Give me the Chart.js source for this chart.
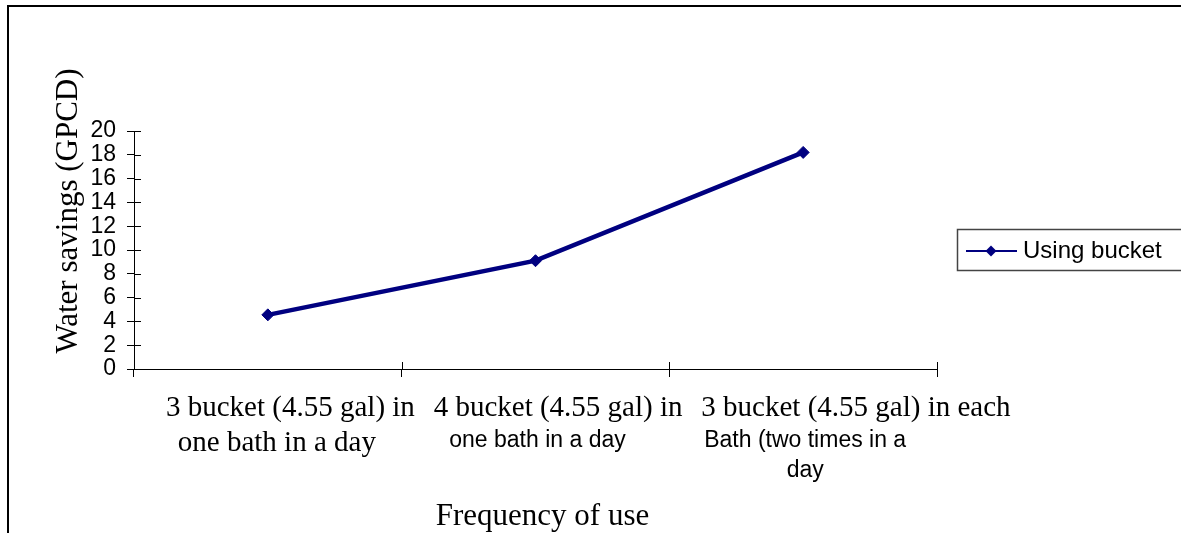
<!DOCTYPE html>
<html>
<head>
<meta charset="utf-8">
<script src="https://cdn.jsdelivr.net/npm/chart.js@4.4.1/dist/chart.umd.min.js"></script>
<style>
  html, body { margin: 0; padding: 0; background: #fff; }
  #wrap { width: 1181px; height: 533px; position: relative; }
</style>
</head>
<body>
<div id="wrap"><canvas id="savingsChart"></canvas></div>
<script>
// categories, wrapped the way they are printed under the axis
const categoryLines = [
    ['3 bucket (4.55 gal) in', 'one bath in a day'],
    ['4 bucket (4.55 gal) in', 'one bath in a day'],
    ['3 bucket (4.55 gal) in each', 'Bath (two times in a', 'day']
];
const savings = [4.55, 9.1, 18.2];
const seriesName = 'Using bucket';
const yMin = 0;
const yMax = 20;
const yStep = 2;
const yTitle = 'Water savings (GPCD)';
const xTitle = 'Frequency of use';

const NAVY = '#000080';
const SERIF = '"Liberation Serif", "Times New Roman", Times, serif';
const SANS = '"Liberation Sans", Arial, Helvetica, sans-serif';

const decorPlugin = {
    id: 'decor',
    afterDraw(chart) {
        const ctx = chart.ctx;
        const xs = chart.scales.x;
        const ys = chart.scales.y;
        const area = chart.chartArea;
        ctx.save();

        // outer frame (left and top edges only)
        ctx.strokeStyle = '#000';
        ctx.lineWidth = 2;
        ctx.beginPath();
        ctx.moveTo(8, chart.height);
        ctx.lineTo(8, 6);
        ctx.lineTo(chart.width, 6);
        ctx.stroke();

        // tick marks cross the axes, so add the inner half
        ctx.lineWidth = 1;
        ctx.beginPath();
        ys.ticks.forEach((t, i) => {
            const py = Math.round(ys.getPixelForTick(i)) + 0.5;
            ctx.moveTo(area.left, py);
            ctx.lineTo(area.left + 7, py);
        });
        for (let i = 0; i <= categoryLines.length; i++) {
            const px = Math.round(xs.getPixelForValue(i - 0.5)) + 0.5;
            ctx.moveTo(px, area.bottom);
            ctx.lineTo(px, area.bottom - 7);
        }
        ctx.stroke();

        // category labels
        ctx.fillStyle = '#000';
        categoryLines.forEach((lines, i) => {
            const left = xs.getPixelForValue(i - 0.5);
            const mid = xs.getPixelForValue(i);
            lines.forEach((txt, j) => {
                if (j === 0) {
                    ctx.font = '29px ' + SERIF;
                    ctx.textAlign = 'left';
                    ctx.fillText(txt, left + 32, area.bottom + 47);
                } else if (i === 0) {
                    ctx.font = '29px ' + SERIF;
                    ctx.textAlign = 'center';
                    ctx.fillText(txt, mid + 9, area.bottom + 82);
                } else {
                    ctx.font = '23px ' + SANS;
                    ctx.textAlign = 'center';
                    ctx.fillText(txt, mid + 2, area.bottom + 48 + 30 * j);
                }
            });
        });

        // axis titles
        ctx.font = '31px ' + SERIF;
        ctx.textAlign = 'center';
        ctx.fillText(xTitle, (area.left + area.right) / 2 + 7, area.bottom + 156);

        ctx.save();
        ctx.translate(77, 211);
        ctx.rotate(-Math.PI / 2);
        ctx.fillText(yTitle, 0, 0);
        ctx.restore();

        // legend box
        ctx.strokeStyle = '#444';
        ctx.lineWidth = 1.5;
        ctx.strokeRect(957.5, 229.5, 300, 41);
        ctx.strokeStyle = NAVY;
        ctx.lineWidth = 2;
        ctx.beginPath();
        ctx.moveTo(966, 251);
        ctx.lineTo(1017, 251);
        ctx.stroke();
        ctx.fillStyle = NAVY;
        ctx.beginPath();
        ctx.moveTo(991, 245.5);
        ctx.lineTo(996.5, 251);
        ctx.lineTo(991, 256.5);
        ctx.lineTo(985.5, 251);
        ctx.closePath();
        ctx.fill();
        ctx.fillStyle = '#000';
        ctx.font = '24px ' + SANS;
        ctx.textAlign = 'left';
        ctx.fillText(chart.data.datasets[0].label, 1023, 258);

        ctx.restore();
    }
};

const ctxL = document.getElementById('savingsChart').getContext('2d');
const savingsChart = new Chart(ctxL, {
    type: 'line',
    data: {
        labels: categoryLines.map(l => l.join(' ')),
        datasets: [{
            label: seriesName,
            data: savings,
            borderColor: NAVY,
            backgroundColor: NAVY,
            borderWidth: 4.5,
            pointStyle: 'rectRot',
            pointRadius: 6,
            pointBorderWidth: 1,
            pointBackgroundColor: NAVY,
            pointBorderColor: NAVY,
            tension: 0,
            clip: false
        }]
    },
    options: {
        responsive: true,
        maintainAspectRatio: false,
        animation: false,
        layout: { padding: { left: 0, top: 131, right: 244, bottom: 0 } },
        plugins: {
            legend: { display: false },
            tooltip: { enabled: false }
        },
        scales: {
            x: {
                type: 'category',
                offset: true,
                grid: { offset: true, drawOnChartArea: false, tickLength: 8, color: '#000' },
                border: { color: '#000', width: 1 },
                ticks: { display: false },
                afterFit: (scale) => { scale.height = 164; }
            },
            y: {
                min: yMin,
                max: yMax,
                grid: { drawOnChartArea: false, tickLength: 7, color: '#000' },
                border: { color: '#000', width: 1 },
                ticks: {
                    stepSize: yStep,
                    autoSkip: false,
                    padding: 11,
                    color: '#000',
                    font: { family: SANS, size: 23 }
                },
                afterFit: (scale) => { scale.width = 134; }
            }
        }
    },
    plugins: [decorPlugin]
});
</script>
</body>
</html>
